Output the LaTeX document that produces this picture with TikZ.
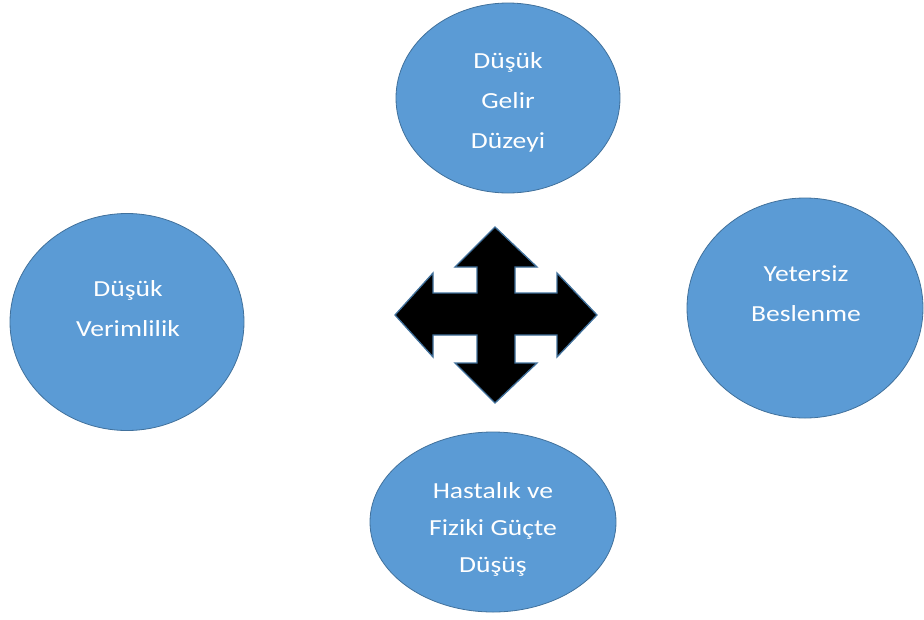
\documentclass[tikz,border=0pt]{standalone}
\usepackage{fontspec}
\setmainfont{Carlito}[FakeStretch=1.2]
\usetikzlibrary{shapes.geometric}
\definecolor{fillblue}{HTML}{5B9BD5}
\definecolor{edgeblue}{HTML}{41719C}
\begin{document}
\begin{tikzpicture}[x=1pt,y=-1pt,
  bubble/.style={ellipse,draw=edgeblue,line width=0.8pt,fill=fillblue,inner sep=0pt},
  lbl/.style={text=white,align=center,font=\fontsize{23}{40}\selectfont,inner sep=0pt}]
\useasboundingbox (0,0) rectangle (924,619);
\node[bubble,minimum width=224pt,minimum height=190pt] (top) at (508,98) {};
\node[bubble,minimum width=234pt,minimum height=217pt] (left) at (127,322) {};
\node[bubble,minimum width=236pt,minimum height=220pt] (right) at (805,308) {};
\node[bubble,minimum width=246pt,minimum height=180pt] (bottom) at (493,522) {};
\node[lbl] (toptext) at (508,102) {Düşük\\Gelir\\Düzeyi};
\node[lbl] (lefttext) at (128,309) {Düşük\\Verimlilik};
\node[lbl] (righttext) at (806,294) {Yetersiz\\Beslenme};
\node[lbl,font=\fontsize{23}{37}\selectfont] (bottomtext) at (493,529) {Hastalık ve\\Fiziki Güçte\\Düşüş};
\coordinate (arrowc) at (495,315);
\draw[fill=black,draw=edgeblue,line width=1.3pt,line join=miter]
 (495,227) -- (537,267) -- (515,267) -- (515,293) -- (557,293) -- (557,273)
 -- (597,315) -- (557,357) -- (557,335) -- (515,335) -- (515,363) -- (537,363)
 -- (495,403) -- (455,363) -- (477,363) -- (477,335) -- (433,335) -- (433,357)
 -- (395,315) -- (433,273) -- (433,293) -- (477,293) -- (477,267) -- (455,267) -- cycle;
\end{tikzpicture}
\end{document}
